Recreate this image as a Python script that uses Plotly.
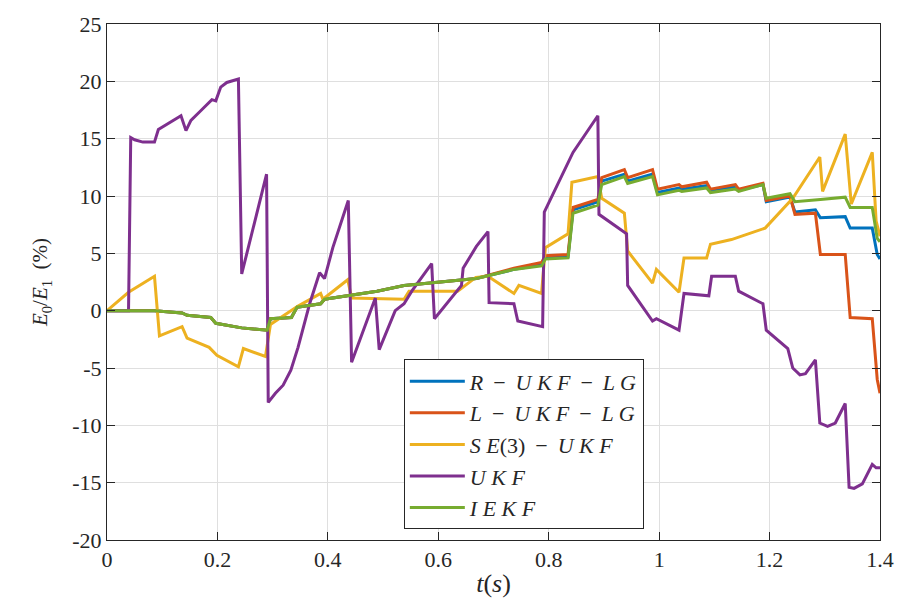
import plotly.graph_objects as go

# ---- data ----
t_ukf = [0, 0.039, 0.043, 0.050, 0.065, 0.086, 0.093, 0.134, 0.143, 0.152, 0.167, 0.190, 0.197, 0.206, 0.217, 0.238,
         0.244, 0.289, 0.292, 0.305, 0.319, 0.333, 0.346, 0.367, 0.385, 0.394, 0.409, 0.437, 0.443, 0.486, 0.493,
         0.522, 0.538, 0.552, 0.588, 0.593, 0.642, 0.645, 0.669, 0.690, 0.692, 0.737, 0.744, 0.789, 0.792, 0.844,
         0.889, 0.891, 0.941, 0.943, 0.988, 0.995, 1.036, 1.045, 1.090, 1.095, 1.138, 1.144, 1.188, 1.194, 1.233,
         1.242, 1.255, 1.265, 1.283, 1.291, 1.305, 1.319, 1.337, 1.344, 1.353, 1.368, 1.386, 1.393, 1.400]
ukf = [0, 0, 15.1, 14.9, 14.7, 14.7, 15.8, 17.0, 15.7, 16.6, 17.3, 18.4, 18.3, 19.5, 19.9, 20.2,
       3.2, 11.9, -8.0, -7.2, -6.5, -5.2, -3.2, 0.6, 3.3, 2.8, 5.5, 9.6, -4.5, 1.1, -3.4,
       0.0, 0.6, 1.7, 4.1, -0.7, 2.2, 3.7, 5.6, 6.9, 0.7, 0.6, -0.9, -1.4, 8.6, 13.8,
       17.0, 8.4, 6.7, 2.2, -0.9, -0.7, -1.7, 1.5, 1.3, 3.0, 3.0, 1.7, 0.6, -1.7, -3.3,
       -5.0, -5.6, -5.5, -4.3, -9.8, -10.1, -9.8, -8.1, -15.4, -15.5, -15.1, -13.4, -13.7, -13.7]

t_se3 = [0, 0.039, 0.086, 0.095, 0.136, 0.145, 0.185, 0.199, 0.238, 0.247, 0.287, 0.296, 0.346, 0.387, 0.391,
         0.436, 0.443, 0.538, 0.547, 0.635, 0.668, 0.690, 0.737, 0.746, 0.787, 0.794, 0.835, 0.842, 0.889, 0.896,
         0.937, 0.943, 0.988, 0.995, 1.036, 1.045, 1.086, 1.093, 1.131, 1.192, 1.242, 1.291, 1.296, 1.337, 1.348,
         1.386, 1.393, 1.400]
se3 = [0, 1.6, 3.0, -2.2, -1.4, -2.4, -3.2, -3.9, -4.9, -3.3, -4.0, -1.2, 0.4, 1.5, 1.0,
       2.7, 1.1, 1.0, 1.7, 1.7, 2.9, 3.0, 1.5, 2.2, 1.5, 5.5, 6.7, 11.2, 11.7, 9.8,
       8.5, 5.2, 2.4, 3.6, 1.6, 4.6, 4.6, 5.8, 6.2, 7.2, 9.8, 13.4, 10.4, 15.4, 9.3,
       13.8, 7.8, 6.5]

t_lg = [0, 0.086, 0.136, 0.145, 0.188, 0.197, 0.244, 0.290, 0.296, 0.334, 0.344, 0.387, 0.394, 0.489, 0.538,
        0.669, 0.737, 0.787, 0.794, 0.835, 0.844, 0.889, 0.896, 0.937, 0.943, 0.988, 0.997, 1.036, 1.041, 1.086,
        1.093, 1.138, 1.144, 1.188, 1.194, 1.237, 1.246, 1.283, 1.292, 1.337, 1.346, 1.386, 1.395, 1.400]
iekf = [0, 0, -0.2, -0.4, -0.6, -1.1, -1.5, -1.7, -0.7, -0.6, 0.3, 0.6, 1.0, 1.7, 2.2,
        2.8, 3.6, 3.9, 4.5, 4.6, 8.5, 9.2, 11.0, 11.7, 11.1, 11.7, 10.1, 10.5, 10.4, 10.7,
        10.3, 10.6, 10.4, 11.0, 9.8, 10.2, 9.5, 9.7, 9.7, 9.9, 9.0, 9.0, 6.3, 6.0]
r_ukf_lg = [0, 0, -0.2, -0.4, -0.6, -1.1, -1.5, -1.7, -0.7, -0.6, 0.3, 0.6, 1.0, 1.7, 2.2,
            2.8, 3.6, 4.0, 4.6, 4.7, 8.8, 9.5, 11.3, 11.9, 11.3, 11.9, 10.3, 10.7, 10.6, 10.9,
            10.5, 10.8, 10.5, 11.0, 9.5, 9.9, 8.6, 8.8, 8.1, 8.2, 7.2, 7.2, 4.9, 4.5]
l_ukf_lg = [0, 0, -0.2, -0.4, -0.6, -1.1, -1.5, -1.7, -0.7, -0.6, 0.3, 0.6, 1.0, 1.7, 2.2,
            2.8, 3.7, 4.2, 4.8, 4.9, 9.0, 9.7, 11.6, 12.3, 11.6, 12.3, 10.6, 11.0, 10.8, 11.2,
            10.6, 11.0, 10.6, 11.1, 9.6, 10.0, 8.4, 8.5, 4.9, 4.9, -0.6, -0.7, -6.0, -7.2]

x_ticks = [0, 0.2, 0.4, 0.6, 0.8, 1.0, 1.2, 1.4]
x_labels = ["0", "0.2", "0.4", "0.6", "0.8", "1", "1.2", "1.4"]
y_ticks = [-20, -15, -10, -5, 0, 5, 10, 15, 20, 25]
y_labels = ["-20", "-15", "-10", "-5", "0", "5", "10", "15", "20", "25"]

sp = "\u2009"
names = [f"<i>R</i> {sp}−{sp} <i>U K F</i> {sp}−{sp} <i>L G</i>",
         f"<i>L</i> {sp}−{sp} <i>U K F</i> {sp}−{sp} <i>L G</i>",
         f"<i>S E</i>(3) {sp}−{sp} <i>U K F</i>",
         "<i>U K F</i>",
         "<i>I E K F</i>"]
colors = ["#0072BD", "#D95319", "#EDB120", "#7E2F8E", "#77AC30"]

series = [(t_lg, r_ukf_lg), (t_lg, l_ukf_lg), (t_se3, se3), (t_ukf, ukf), (t_lg, iekf)]

fig = go.Figure()
for (tt, vv), nm, c in zip(series, names, colors):
    fig.add_trace(go.Scatter(x=tt, y=vv, mode="lines", name=nm,
                             line=dict(color=c, width=3)))

font_family = "Liberation Serif"
fig.update_layout(
    width=906, height=612,
    margin=dict(l=107, r=18, t=20, b=72),
    paper_bgcolor="white", plot_bgcolor="white",
    font=dict(family=font_family, size=22, color="#262626"),
    showlegend=True,
    legend=dict(x=0.384, y=0.35, xanchor="left", yanchor="top",
                bgcolor="white", bordercolor="#262626", borderwidth=1,
                font=dict(family=font_family, size=22, color="#262626"),
                itemwidth=55, tracegroupgap=0),
)
fig.update_xaxes(range=[0, 1.4], tickvals=x_ticks, ticktext=x_labels,
                 tickfont=dict(family=font_family, size=22),
                 showgrid=True, gridcolor="#DFDFDF", gridwidth=1,
                 ticks="inside", ticklen=8, tickcolor="#262626",
                 showline=True, linecolor="#262626", linewidth=1, mirror="ticks",
                 zeroline=False,
                 title=dict(text="<i>t</i>(<i>s</i>)", font=dict(family=font_family, size=26), standoff=2))
fig.update_yaxes(range=[-20, 25], tickvals=y_ticks, ticktext=y_labels,
                 tickfont=dict(family=font_family, size=22),
                 showgrid=True, gridcolor="#DFDFDF", gridwidth=1,
                 ticks="inside", ticklen=8, tickcolor="#262626",
                 showline=True, linecolor="#262626", linewidth=1, mirror="ticks",
                 zeroline=False,
                 title=dict(text="<i>E</i><sub>0</sub>/<i>E</i><sub>1</sub>  (%)",
                            font=dict(family=font_family, size=21), standoff=18))

fig.write_html("out.html")
